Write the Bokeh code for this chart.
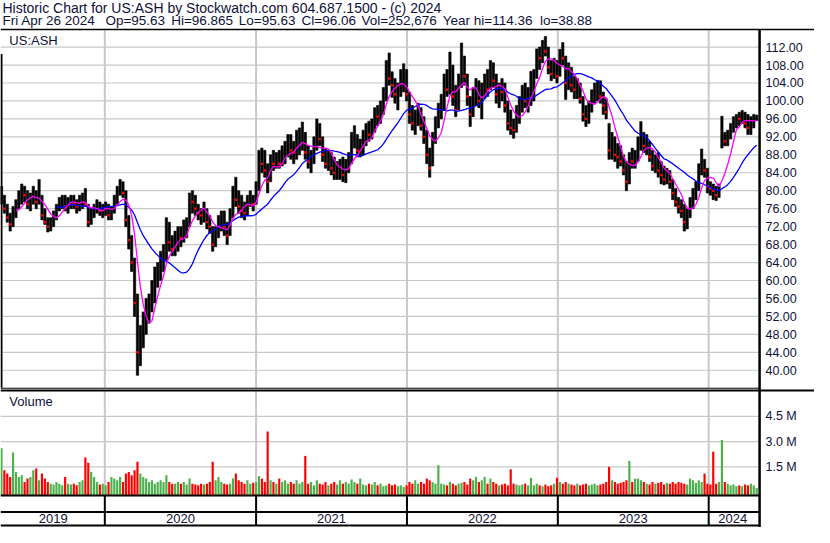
import pandas as pd
import numpy as np
from bokeh.plotting import figure
from bokeh.models import Range1d, ColumnDataSource
from bokeh.embed import file_html
from bokeh.resources import INLINE
from bokeh.core.properties import value

# ---------------- data (weekly) ----------------
START = "2019-04-26"
HIGH = [81, 79, 77, 75, 76.5, 78, 80, 81.5, 81, 80, 79.5, 81, 80, 82.5, 79, 76, 74, 74, 75.5, 77,
        78.5, 79, 79, 78.5, 79, 79, 78, 79, 79.5, 80.5, 77, 76, 77, 78, 77.5, 77, 77.5, 77, 76.5, 79,
        81, 82.5, 82, 80, 74.5, 70, 65, 57, 50, 53, 56, 57, 60, 63, 64, 66.5, 68, 74, 73, 70,
        71, 72, 72, 73.5, 74, 79.5, 80, 79, 77, 76, 77.5, 76, 74.5, 72, 72, 74.5, 75.5, 75.5, 73, 76,
        81, 83, 80, 79, 77.5, 79, 80, 79, 82, 89, 89.5, 89, 86, 88, 89, 88.5, 89, 90, 91, 92.5,
        92.5, 91, 93.5, 94, 95.3, 93, 90, 89, 92, 96, 95, 92, 89.5, 89, 88.5, 87.5, 86.5, 87, 87.5, 87,
        88.5, 93, 94.5, 92.5, 91.5, 93.5, 95, 95.5, 96, 98.5, 99, 100, 103, 109, 110.7, 106.5, 105, 104, 107, 108.3,
        107, 102, 99, 98, 99.5, 98.5, 96.5, 93.5, 89.5, 93, 96.5, 99.5, 101.5, 106, 107, 110.9, 108, 103.5, 106, 112.9,
        110, 106, 101, 103, 105, 104.5, 104, 106, 107, 109, 108.5, 106, 104, 105, 104, 100, 98, 96, 99, 101,
        103.5, 104, 103, 106.6, 107, 111.6, 112, 113.5, 114.36, 112, 109, 109.5, 109, 111.5, 113, 110, 108.5, 107.5, 105.5, 105,
        104, 101, 99, 100, 102.5, 104, 104.6, 104.5, 102, 100.5, 95, 93, 92, 90.5, 90, 88, 86.5, 88.5, 89.5, 89,
        92, 95.4, 93, 92.5, 91, 89, 88, 88.5, 86.5, 85.5, 85, 84.5, 82.5, 80.5, 78.5, 78, 77, 76, 78.5, 80.5,
        82, 86, 89.3, 87, 85, 82, 81.5, 81, 81.5, 96.6, 93, 93.5, 95, 96.5, 97, 97.5, 97.9, 97.5, 97, 96.5,
        97, 96.865]
LOW = [77, 75, 73, 71, 72, 74, 76, 77, 77.5, 76, 75.5, 77, 76, 77, 73.5, 72.5, 70.8, 71, 72, 73.5,
       75.5, 76, 75.5, 75, 76, 76, 75, 75.5, 76, 76.5, 72, 72.5, 74, 75, 74.5, 74, 74.5, 73.5, 73.5, 75,
       77, 79, 78.5, 72, 67, 62, 52, 38.88, 41, 45, 48, 50.5, 53, 55, 58.5, 60, 62, 64.5, 66.5, 65.5,
       65.5, 66.5, 67.5, 68.5, 69.5, 72, 75, 74.5, 73.5, 72.5, 73, 71.5, 70.5, 66.5, 67.5, 69.5, 71, 70, 68, 70,
       74, 76.5, 75, 74, 73.5, 74.5, 76.5, 75.5, 77, 80, 84, 83, 79.5, 82, 84.5, 85, 85, 85.5, 86, 87.5,
       87, 86, 87, 88, 89, 87, 85, 84, 86, 89, 90, 86.5, 85, 84.5, 83.5, 82.5, 82.5, 82.5, 82, 81.8,
       84, 86, 89.5, 87.5, 87.5, 88, 90, 91, 91.5, 93, 94.5, 95, 97, 100, 103.5, 100.8, 99.5, 98, 101, 102,
       100, 95, 93.5, 92.5, 94.5, 93.5, 90.5, 86, 83, 85.5, 90.5, 94, 96, 98, 101, 101.5, 99, 96.5, 98, 103,
       103.5, 99, 94.3, 96.5, 99, 98.5, 96, 100.5, 101, 102.5, 103, 99.5, 98.5, 100, 97.5, 93.5, 92.5, 91.7, 93, 95,
       97.5, 98.5, 97.5, 99, 100, 105, 107, 108.5, 110, 106, 104.5, 105, 104, 105.5, 108, 100.3, 102.5, 102, 100.5, 100.5,
       99.5, 95.5, 94.3, 95, 97.5, 99.5, 100, 99.5, 97, 96, 87, 87, 86.5, 85, 85.5, 83.5, 80, 81.5, 85, 85,
       86.5, 89, 88.5, 88, 86.5, 84.5, 84, 83, 81.5, 81.3, 81.5, 80.5, 78, 76.5, 75, 74, 71, 71.5, 74, 76,
       78, 80, 83.5, 83, 79.5, 79, 78, 77.8, 78.5, 89.5, 90, 90, 91.5, 93, 94, 94.5, 95, 94, 92.5, 92.5,
       94, 95.63]
CLOSE = [78, 76, 74, 72.5, 75.5, 77.5, 79, 80, 79, 77, 78, 79.5, 77.5, 79, 74.5, 73, 72, 73, 74.5, 76.5,
         77.5, 78, 76.5, 77.5, 78.5, 77, 76.5, 77.5, 78, 77, 73, 75, 76.5, 77, 75.5, 76, 76.5, 74.5, 75.5, 78,
         80, 81, 79.5, 73.5, 69, 64, 55, 44, 46, 50, 53, 55, 58, 61, 62.5, 64, 65.5, 71, 68.5, 67,
         69, 70, 69.5, 72, 72.5, 78.5, 77.5, 76, 75, 74.5, 75.5, 73, 72, 68, 70.5, 73, 74, 72, 70, 74.5,
         79.5, 78, 76.5, 75.5, 75, 77.5, 78.5, 77, 80.5, 87.5, 86, 84.5, 82, 86.5, 86, 87, 86, 88.5, 89.5, 90,
         89, 88.5, 91.5, 92, 93.5, 88.5, 86.5, 87.5, 90.5, 93, 91.5, 88, 86, 87, 85, 84, 84.5, 85, 83.5, 85.5,
         87, 91, 91, 89, 90, 91.5, 93.5, 92.5, 94.5, 97.5, 96.5, 99, 101.5, 106.5, 105, 103.5, 101.5, 102.5, 104, 106,
         101.5, 97, 95, 96.5, 97.5, 94.5, 92, 88, 85, 91.5, 95.5, 98.5, 99, 104.5, 102.5, 107, 101, 98, 104, 109,
         105.5, 101, 97, 101.5, 103.5, 100, 101, 104, 102.5, 106, 104.5, 101.5, 103, 102, 99, 95, 94, 93.5, 97.5, 99.5,
         101, 100, 101.5, 104.5, 105.5, 110.5, 109.5, 112, 111, 107.5, 106, 108, 105.5, 110, 109.5, 104, 106.5, 103.5, 102.5, 103.5,
         100.5, 97, 96, 98.5, 101.5, 102, 103.5, 101, 99, 97.5, 89, 90.5, 88, 87.5, 86.5, 84.5, 82, 87, 86.5, 87.5,
         91, 91.5, 90, 90.5, 87.5, 85.5, 86.5, 84.5, 83.5, 82.5, 84, 82, 79.5, 77.5, 76.5, 75.5, 73, 75, 77.5, 79.5,
         81, 85, 86, 84.5, 81, 80.5, 80, 79, 80.5, 92, 91, 92.5, 94, 95.5, 96.5, 96, 96.8, 95, 94, 95.5,
         96, 96.06]
VOLUME_M = [2.6, 1.3, 1.1, 0.9, 2.35, 1.2, 0.9, 1.0, 0.6, 0.8, 0.9, 1.3, 1.4, 0.7, 1.1, 0.8, 0.6, 0.5, 0.45, 0.6,
            0.5, 0.4, 0.9, 0.5, 0.45, 0.5, 0.4, 0.6, 0.7, 2.05, 1.75, 1.2, 0.9, 0.6, 0.45, 0.5, 0.4, 0.6, 0.9, 0.8,
            0.7, 0.9, 0.6, 1.1, 1.2, 1.0, 1.3, 1.8, 1.1, 0.9, 0.8, 0.6, 0.7, 0.5, 0.6, 0.7, 0.6, 1.0, 0.6, 0.5,
            0.5, 0.6, 0.5, 0.6, 0.45, 0.8, 0.5, 0.45, 0.4, 0.5, 0.45, 0.5, 0.6, 1.8, 0.7, 0.9, 0.6, 0.5, 0.45, 0.5,
            0.8, 1.1, 0.7, 0.6, 0.5, 0.7, 0.5, 0.55, 0.6, 0.95, 0.8, 0.6, 3.6, 0.7, 0.6, 0.5, 0.8, 0.6, 0.7, 0.5,
            0.6, 0.5, 0.7, 0.5, 0.6, 2.15, 0.5, 0.6, 0.4, 0.7, 0.5, 0.45, 0.6, 0.4, 0.5, 0.6, 0.45, 0.7, 0.5, 0.6,
            0.5, 0.75, 0.6, 0.5, 0.8, 0.45, 0.4, 0.5, 0.45, 0.6, 0.4, 0.5, 0.35, 0.4, 0.5, 0.4, 0.45, 0.35, 0.4, 0.3,
            0.4, 0.6, 0.5, 0.7, 0.5, 0.6, 0.5, 0.8, 0.7, 0.6, 0.5, 1.6, 0.5, 0.45, 0.4, 0.6, 0.5, 0.4, 0.5, 0.55,
            0.6, 0.45, 0.8, 0.7, 0.9, 0.6, 0.7, 0.9, 0.5, 0.8, 0.6, 0.5, 0.4, 0.45, 0.5, 0.4, 1.35, 0.5, 0.45, 0.4,
            0.45, 0.5, 0.4, 0.85, 0.4, 0.5, 0.4, 0.35, 0.45, 0.35, 0.4, 0.5, 0.85, 0.6, 0.5, 0.6, 0.5, 0.45, 0.4, 0.5,
            0.4, 0.45, 0.5, 0.4, 0.45, 0.5, 0.4, 0.45, 0.5, 0.6, 1.5, 0.7, 0.6, 0.5, 0.55, 0.6, 0.7, 1.85, 0.6, 0.8,
            0.8, 0.7, 0.6, 0.5, 0.45, 0.6, 0.5, 0.55, 0.6, 0.45, 0.55, 0.5, 0.6, 0.5, 0.6, 0.55, 0.5, 0.45, 0.8, 0.7,
            0.55, 0.7, 0.6, 1.1, 0.5, 0.45, 2.4, 0.5, 0.6, 3.1, 0.6, 0.5, 0.4, 0.45, 0.35, 0.4, 0.35, 0.45, 0.4, 0.5,
            0.4, 0.25]
PRICE_TICKS = [40, 44, 48, 52, 56, 60, 64, 68, 72, 76, 80, 84, 88, 92, 96, 100, 104, 108, 112]
VOL_TICKS_M = [1.5, 3.0, 4.5]
YEARS = [2019, 2020, 2021, 2022, 2023, 2024]
FAST_WEEKS = 6
SLOW_WEEKS = 20
SYMBOL = "US:ASH"
TITLE = "Historic Chart for US:ASH by Stockwatch.com 604.687.1500 - (c) 2024"
INFO = ["Fri Apr 26 2024", "Op=95.63", "Hi=96.865", "Lo=95.63", "Cl=96.06", "Vol=252,676",
        "Year hi=114.36", "lo=38.88"]

assert len(HIGH) == len(LOW) == len(CLOSE) == len(VOLUME_M) == 262

# ---------------- layout (reference pixel frame 830 x 543) ----------------
RW, RH = 830, 543
PLOT_RIGHT = 774
X_FIRST, X_LAST = 1.0, 771.0
Y_112, PX_PER_PT = 48.0, 4.625
VOL_ZERO_Y, PX_PER_15M = 506.5, 26.0
INFO_X = [2, 107, 174, 243, 307, 368, 451, 550]
TXT = "#10103a"
GRID = "#c8c8c8"
FONT = value("Liberation Sans")

dates = pd.date_range(START, periods=len(CLOSE), freq="7D")
ms = dates.values.astype("datetime64[ms]").astype(np.int64).astype(float)
week = 7 * 86400000.0
mpp = (ms[-1] - ms[0]) / (X_LAST - X_FIRST)
date_start = ms[0] - X_FIRST * mpp
date_end = ms[0] + (RW - X_FIRST) * mpp

price_bot = 112 - (RH - Y_112) / PX_PER_PT
price_top = 112 + Y_112 / PX_PER_PT
vol_bot = -(RH - VOL_ZERO_Y) / PX_PER_15M * 1.5e6
vol_top = VOL_ZERO_Y / PX_PER_15M * 1.5e6
vol_floor = -(510 - VOL_ZERO_Y) / PX_PER_15M * 1.5e6

p = figure(width=814, height=527, output_backend="svg", toolbar_location=None,
           x_range=Range1d(0, RW), y_range=Range1d(RH, 0),
           x_axis_location=None, y_axis_location=None, title=None,
           min_border=0, outline_line_color=None, background_fill_color="white",
           border_fill_color="white")
p.grid.visible = False
p.extra_x_ranges = {"date": Range1d(date_start, date_end)}
p.extra_y_ranges = {"price": Range1d(price_bot, price_top), "vol": Range1d(vol_bot, vol_top)}

# gridlines
p.segment(x0=0, x1=PLOT_RIGHT, y0=PRICE_TICKS, y1=PRICE_TICKS, y_range_name="price",
          line_color=GRID, line_width=1.2)
vt = [v * 1e6 for v in VOL_TICKS_M]
p.segment(x0=0, x1=PLOT_RIGHT, y0=vt, y1=vt, y_range_name="vol", line_color=GRID, line_width=1.2)

year_starts = [pd.Timestamp(f"{y}-01-01") for y in YEARS[1:]]
ys_ms = [t.value / 1e6 for t in year_starts]
p.segment(x0=ys_ms, x1=ys_ms, y0=31, y1=399, x_range_name="date", line_color=GRID, line_width=2)
p.segment(x0=ys_ms, x1=ys_ms, y0=402, y1=509, x_range_name="date", line_color=GRID, line_width=2)

# price bars
src = ColumnDataSource(dict(x=ms, hi=HIGH, lo=LOW, cl=CLOSE))
p.vbar(x="x", top="hi", bottom="lo", width=week * 0.8, source=src, x_range_name="date",
       y_range_name="price", fill_color="black", line_color="black", line_width=0.6)
closes = np.array(CLOSE)
down = np.r_[False, closes[1:] < closes[:-1]]
p.scatter(x=ms[down], y=closes[down], marker="square", size=2.4, fill_color="red", line_color=None,
          x_range_name="date", y_range_name="price")

# moving averages
fast = pd.Series(CLOSE).rolling(FAST_WEEKS).mean().values
slow = pd.Series(CLOSE).rolling(SLOW_WEEKS).mean().values
p.line(ms, slow, line_color="#0000ff", line_width=1.3, x_range_name="date", y_range_name="price")
p.line(ms, fast, line_color="#ff00ff", line_width=1.3, x_range_name="date", y_range_name="price")

# volume
vcol = ["#ff0000" if d else "#4cb04c" for d in down]
p.vbar(x=ms, top=[v * 1e6 for v in VOLUME_M], bottom=vol_floor, width=week * 0.75,
       fill_color=vcol, line_color=None, x_range_name="date", y_range_name="vol")

# frame lines
p.segment(x0=[0, 0, 0, 0, 0, 0], x1=[RW, PLOT_RIGHT, RW, PLOT_RIGHT, PLOT_RIGHT, PLOT_RIGHT],
          y0=[30, 399.5, 401.8, 510, 527, 541], y1=[30, 399.5, 401.8, 510, 527, 541],
          line_color="black", line_width=[1.5, 1, 2, 2, 2, 2])
p.segment(x0=PLOT_RIGHT, x1=PLOT_RIGHT, y0=30, y1=RH, line_color="black", line_width=2.5)
p.segment(x0=1, x1=1, y0=55, y1=399, line_color="black", line_width=2)
p.segment(x0=ys_ms, x1=ys_ms, y0=510, y1=541, x_range_name="date", line_color="black", line_width=2)

# texts
p.text(x=[2], y=[8], text=[TITLE], text_baseline="middle", text_font=FONT,
       text_font_size="14px", text_color=TXT)
p.text(x=INFO_X, y=[21] * len(INFO), text=INFO, text_baseline="middle", text_font=FONT,
       text_font_size="13.5px", text_color=TXT)
p.text(x=[9], y=[41], text=[SYMBOL], text_baseline="middle", text_font=FONT,
       text_font_size="13px", text_color=TXT)
p.text(x=[9], y=[413], text=["Volume"], text_baseline="middle", text_font=FONT,
       text_font_size="13px", text_color=TXT)
p.text(x=[780] * len(PRICE_TICKS), y=PRICE_TICKS, text=[f"{t:.2f}" for t in PRICE_TICKS],
       y_range_name="price", text_baseline="middle", text_font=FONT, text_font_size="12.5px",
       text_color=TXT)
p.text(x=[780] * len(vt), y=vt, text=[f"{v:.1f} M" for v in VOL_TICKS_M], y_range_name="vol",
       text_baseline="middle", text_font=FONT, text_font_size="12.5px", text_color=TXT)

bounds = [ms[0]] + ys_ms + [ms[-1]]
centers = [(bounds[i] + bounds[i + 1]) / 2 for i in range(len(YEARS))]
p.text(x=centers, y=[534] * len(YEARS), text=[str(y) for y in YEARS], x_range_name="date",
       text_align="center", text_baseline="middle", text_font=FONT, text_font_size="13px",
       text_color=TXT)

open("out.html", "w").write(file_html(p, INLINE))
